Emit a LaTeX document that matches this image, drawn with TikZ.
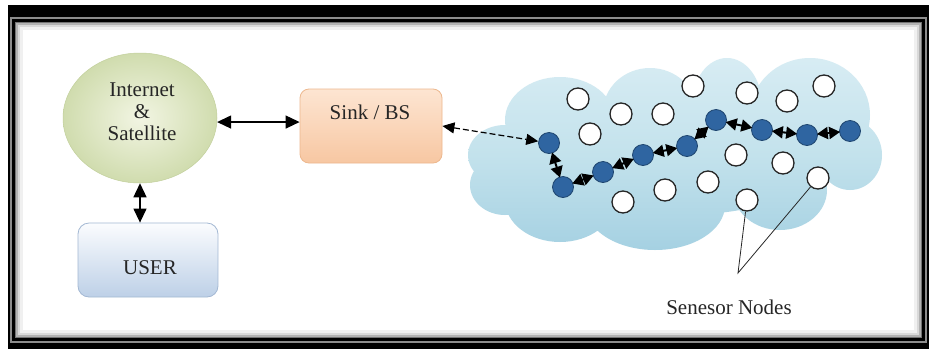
\documentclass[tikz,border=0pt]{standalone}
\usepackage{fontspec}
\setmainfont{Liberation Serif}
\usetikzlibrary{arrows.meta,calc,shapes.geometric}
\definecolor{txtgray}{HTML}{262626}
\definecolor{greenin}{HTML}{F2F5E3}
\definecolor{greenout}{HTML}{D0DCAE}
\definecolor{greenline}{HTML}{C2D09C}
\definecolor{peachtop}{HTML}{FDE5D2}
\definecolor{peachbot}{HTML}{F7C7A2}
\definecolor{peachline}{HTML}{EDB88E}
\definecolor{bluetop}{HTML}{FBFCFE}
\definecolor{bluebot}{HTML}{BDD0E7}
\definecolor{blueline}{HTML}{A3B8D3}
\definecolor{cloudtop}{HTML}{D9EDF4}
\definecolor{cloudmid}{HTML}{C3E2EC}
\definecolor{cloudbot}{HTML}{A2CFE1}
\definecolor{nodeblue}{HTML}{2F65A1}
\definecolor{nodeline}{HTML}{1E456F}
\begin{document}
\begin{tikzpicture}[x=1pt,y=-1pt,
  lbl/.style={font=\fontsize{21}{22}\selectfont, text=txtgray, inner sep=0pt},
  bnode/.style={circle, fill=nodeblue, draw=nodeline, line width=0.8pt, minimum size=21pt, inner sep=0pt},
  wnode/.style={circle, fill=white, draw=txtgray, line width=1.3pt, minimum size=22pt, inner sep=0pt},
  bigarrow/.style={{Triangle[length=14pt,width=13pt]}-{Triangle[length=14pt,width=13pt]}, line width=1.3pt},
  chain/.style={{Triangle[length=11pt,width=12pt]}-{Triangle[length=11pt,width=12pt]}, line width=2pt},
  dasharrow/.style={{Triangle[length=12pt,width=11pt]}-{Triangle[length=12pt,width=11pt]}, line width=1.2pt, dash pattern=on 6pt off 3pt},
  pointer/.style={line width=0.8pt, draw=txtgray}
]
\useasboundingbox (0,0) rectangle (929,349);
% frame
\fill[white] (0,0) rectangle (929,349);
\fill[black] (8,5) rectangle (929,349);
\fill[black!45] (10,17) rectangle (927,343);
\fill[black] (12,19) rectangle (925,341);
\fill[black!55] (15,22) rectangle (922,338);
\fill[black!30] (16,23) rectangle (921,337);
\fill[black!15] (18,25) rectangle (919,335);
\fill[black!6] (20,27) rectangle (917,333);
\fill[white] (23,30) rectangle (914,330);

% cloud
\begin{scope}
\clip (505,155) ellipse [x radius=37pt, y radius=30pt]
      (505,185) ellipse [x radius=35pt, y radius=30pt]
      (560,120) ellipse [x radius=55pt, y radius=43pt]
      (650,112) ellipse [x radius=47pt, y radius=44pt]
      (727,105) ellipse [x radius=35pt, y radius=47pt]
      (810,115) ellipse [x radius=60pt, y radius=57pt]
      (850,155) ellipse [x radius=32pt, y radius=35pt]
      (780,190) ellipse [x radius=47pt, y radius=40pt]
      (655,205) ellipse [x radius=70pt, y radius=45pt]
      (560,200) ellipse [x radius=55pt, y radius=42pt]
      (680,155) ellipse [x radius=150pt, y radius=60pt];
\shade[top color=cloudtop, bottom color=cloudbot, middle color=cloudmid] (460,50) rectangle (890,260);
\end{scope}

% main nodes
\node[ellipse, minimum width=154pt, minimum height=130pt, inner color=greenin, outer color=greenout, draw=greenline, line width=0.5pt] (inet) at (140,118) {};
\node[lbl, align=center] at (142,112) {Internet\\\&\\Satellite};
\node[rounded corners=9pt, minimum width=142pt, minimum height=74pt, top color=peachtop, bottom color=peachbot, draw=peachline, line width=0.8pt] (sink) at (371,126) {};
\node[lbl] at (370,112) {Sink / BS};
\node[rounded corners=11pt, minimum width=140pt, minimum height=74pt, top color=bluetop, bottom color=bluebot, draw=blueline, line width=0.8pt] (user) at (148,260) {};
\node[lbl] at (150,268) {USER};

% sensor nodes (white)
\node[wnode] (w1) at (578,99) {};
\node[wnode] (w2) at (621,114) {};
\node[wnode] (w3) at (663,114) {};
\node[wnode] (w4) at (590,134) {};
\node[wnode] (w5) at (693,86) {};
\node[wnode] (w6) at (747,93) {};
\node[wnode] (w7) at (787,101) {};
\node[wnode] (w8) at (824,86) {};
\node[wnode] (w9) at (736,155) {};
\node[wnode] (w10) at (783,163) {};
\node[wnode] (w11) at (818,178) {};
\node[wnode] (w12) at (708,182) {};
\node[wnode] (w13) at (665,190) {};
\node[wnode] (w14) at (623,202) {};
\node[wnode] (w15) at (747,200) {};

% route nodes (blue)
\node[bnode] (b1) at (549,143) {};
\node[bnode] (b2) at (563,187) {};
\node[bnode] (b3) at (603,172) {};
\node[bnode] (b4) at (643,155) {};
\node[bnode] (b5) at (687,146) {};
\node[bnode] (b6) at (716,120) {};
\node[bnode] (b7) at (762,130) {};
\node[bnode] (b8) at (807,135) {};
\node[bnode] (b9) at (850,131) {};

% connectors
\draw[bigarrow] (inet.-3) -- (inet.-3 -| sink.west);
\draw[bigarrow] (inet.south) -- (inet.south |- user.north);
\draw[dasharrow] (sink.east) -- (b1);
\foreach \a/\b in {b1/b2,b2/b3,b3/b4,b4/b5,b5/b6,b6/b7,b7/b8,b8/b9}
  \draw[chain, shorten <=-1pt, shorten >=-1pt] (\a) -- (\b);

% pointer to sensor nodes
\coordinate (ptr) at (738,273);
\draw[pointer] (w15) -- (ptr) -- (w11);
\node[lbl] (slabel) at (729,307) {Senesor Nodes};
\end{tikzpicture}
\end{document}
